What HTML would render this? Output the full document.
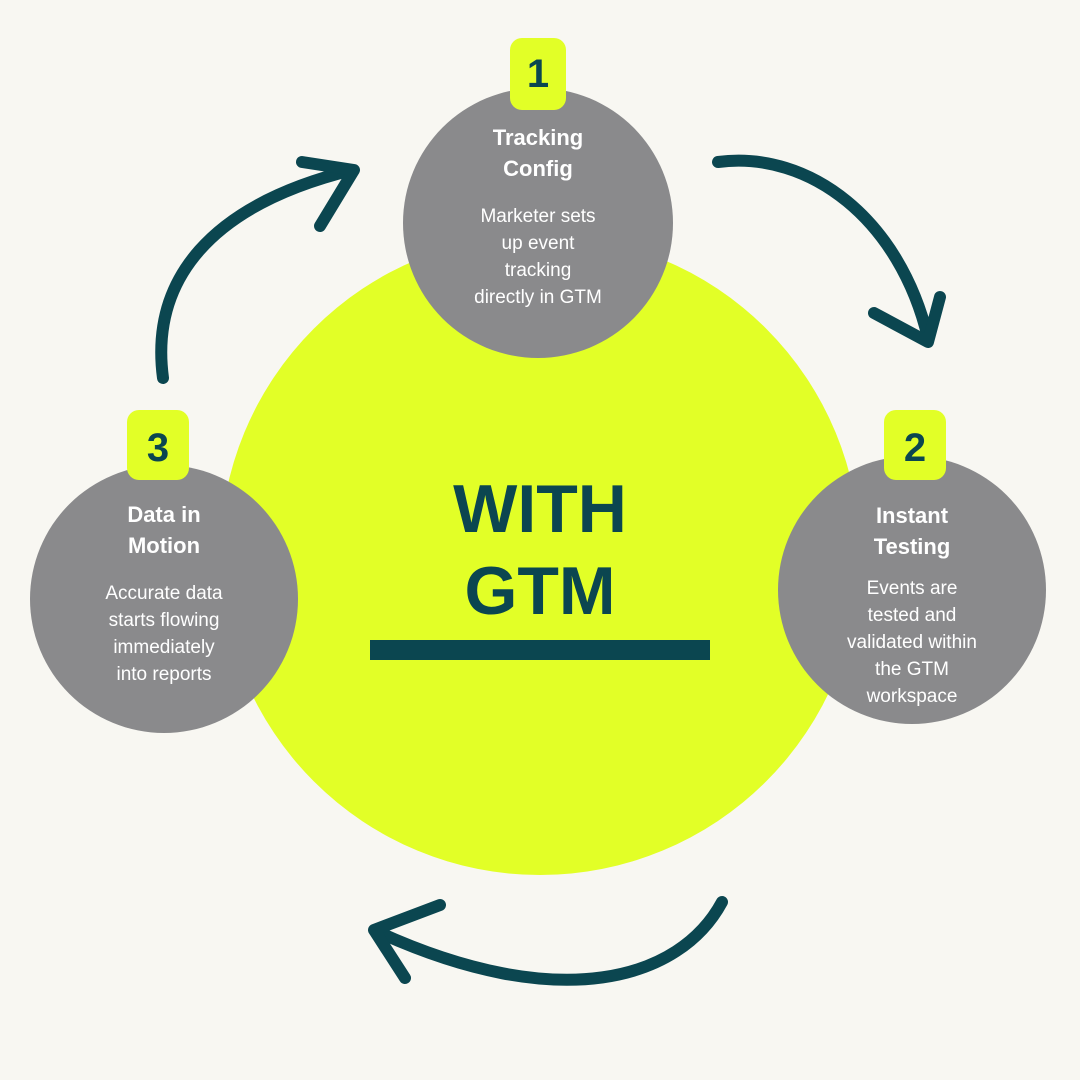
<!DOCTYPE html>
<html><head><meta charset="utf-8"><style>
body{margin:0;width:1080px;height:1080px;background:#f8f7f2;position:relative;overflow:hidden;font-family:"Liberation Sans",sans-serif}
.c{position:absolute;border-radius:50%}
.g{background:#8a8a8c;color:#fff;text-align:center}
.g b{display:block;font-size:22px;line-height:31px}
.g p{margin:0;font-size:19px;line-height:27px}
.badge{position:absolute;background:#e2ff27;border-radius:12px;color:#0b4650;font-weight:bold;font-size:40px;text-align:center}
</style></head><body>
<div class="c" style="left:220px;top:235px;width:640px;height:640px;background:#e2ff27"></div>
<div style="position:absolute;left:340px;width:400px;top:468px;text-align:center;color:#0b4650;font-weight:bold;font-size:68px;line-height:82px">WITH<br>GTM</div>
<div style="position:absolute;left:370px;top:640px;width:340px;height:20px;background:#0b4650"></div>

<div class="c g" style="left:403px;top:88px;width:270px;height:270px"><div style="padding-top:34px"><b>Tracking<br>Config</b><p style="margin-top:19px">Marketer sets<br>up event<br>tracking<br>directly in GTM</p></div></div>
<div class="c g" style="left:778px;top:456px;width:268px;height:268px"><div style="padding-top:44px"><b>Instant<br>Testing</b><p style="margin-top:13px">Events are<br>tested and<br>validated within<br>the GTM<br>workspace</p></div></div>
<div class="c g" style="left:30px;top:465px;width:268px;height:268px"><div style="padding-top:34px"><b>Data in<br>Motion</b><p style="margin-top:19px">Accurate data<br>starts flowing<br>immediately<br>into reports</p></div></div>

<div class="badge" style="left:510px;top:38px;width:56px;height:72px;line-height:72px">1</div>
<div class="badge" style="left:884px;top:410px;width:62px;height:70px;line-height:76px">2</div>
<div class="badge" style="left:127px;top:410px;width:62px;height:70px;line-height:76px">3</div>

<svg width="1080" height="1080" style="position:absolute;left:0;top:0" fill="none" stroke="#0b4650" stroke-width="12" stroke-linecap="round" stroke-linejoin="round">
<path d="M718 162 C810 150 900 220 928 338"/>
<path d="M874 313 L928 342 L940 297"/>
<path d="M722 902 C680 980 560 1015 378 932"/>
<path d="M440 905 L374 930 L405 978"/>
<path d="M163 378 C150 280 210 205 352 170"/>
<path d="M302 162 L354 170 L320 226"/>
</svg>
</body></html>
